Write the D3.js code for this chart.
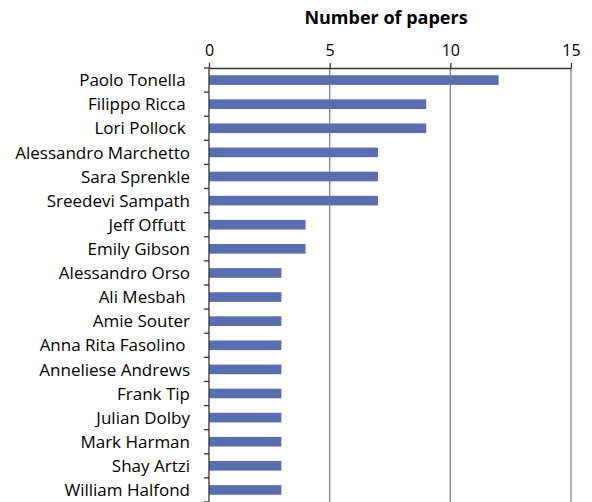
<!DOCTYPE html>
<html>
<head>
<meta charset="utf-8">
<script src="https://cdn.jsdelivr.net/npm/d3@7"></script>
<style>
  body { margin: 0; background: #fff; }
  text { font-family: "Open Sans", sans-serif; }
</style>
</head>
<body>
<div id="chart"></div>
<script>
// authors and their paper counts (trailing spaces kept as in the original labels)
const authors = ["Paolo Tonella ", "Filippo Ricca ", "Lori Pollock ", "Alessandro Marchetto",
    "Sara Sprenkle", "Sreedevi Sampath", "Jeff Offutt ", "Emily Gibson", "Alessandro Orso",
    "Ali Mesbah ", "Amie Souter", "Anna Rita Fasolino ", "Anneliese Andrews", "Frank Tip",
    "Julian Dolby", "Mark Harman", "Shay Artzi", "William Halfond"];
const papers = [12, 9, 9, 7, 7, 7, 4, 4, 3, 3, 3, 3, 3, 3, 3, 3, 3, 3];
const xTicks = [0, 5, 10, 15];
const title = "Number of papers";

function main() {
    let width = 592, height = 502;
    let left = 209, right = 571, top = 68, bottom = 502;

    let svg = d3.select("#chart").append("svg")
        .attr("width", width)
        .attr("height", height);

    let xScale = d3.scaleLinear().domain([0, 15]).range([left, right]);
    let yScale = d3.scaleBand().domain(authors).range([top, bottom]).paddingInner(0.6).paddingOuter(0.3);

    // vertical gridlines
    svg.append("g")
        .selectAll("line")
        .data(xTicks.slice(1))
        .enter()
        .append("line")
        .attr("x1", d => xScale(d))
        .attr("x2", d => xScale(d))
        .attr("y1", top)
        .attr("y2", bottom)
        .attr("stroke", "#868686")
        .attr("stroke-width", 1.3);

    // bars
    svg.append("g")
        .selectAll("rect")
        .data(authors)
        .enter()
        .append("rect")
        .attr("x", xScale(0))
        .attr("y", d => yScale(d))
        .attr("width", (d, i) => xScale(papers[i]) - xScale(0))
        .attr("height", yScale.bandwidth())
        .attr("fill", "#596DAF");

    // top axis
    let xAxis = svg.append("g")
        .attr("transform", "translate(0," + top + ")")
        .call(d3.axisTop(xScale).tickValues(xTicks).tickSize(5).tickSizeOuter(0));
    xAxis.select(".domain").attr("stroke", "#333").attr("stroke-width", 1.3);
    xAxis.selectAll(".tick line").attr("stroke", "#333").attr("stroke-width", 1.3);
    xAxis.selectAll(".tick text")
        .attr("font-size", 16)
        .attr("fill", "#000")
        .attr("y", -12);

    // left axis with ticks between categories
    let bounds = authors.map(d => yScale(d) - yScale.step() * yScale.paddingInner() / 2);
    bounds.push(bottom);
    svg.append("line")
        .attr("x1", left).attr("x2", left)
        .attr("y1", top).attr("y2", bottom)
        .attr("stroke", "#333").attr("stroke-width", 1.3);
    svg.append("g")
        .selectAll("line")
        .data(bounds)
        .enter()
        .append("line")
        .attr("x1", left - 5).attr("x2", left)
        .attr("y1", d => d).attr("y2", d => d)
        .attr("stroke", "#333").attr("stroke-width", 1.3);

    svg.append("g")
        .selectAll("text")
        .data(authors)
        .enter()
        .append("text")
        .attr("x", 190)
        .attr("y", d => yScale(d) + yScale.bandwidth() / 2)
        .attr("dy", "0.36em")
        .attr("text-anchor", "end")
        .attr("font-size", 17)
        .style("white-space", "pre")
        .text(d => d);

    svg.append("text")
        .attr("x", 386)
        .attr("y", 24)
        .attr("text-anchor", "middle")
        .attr("font-size", 18)
        .attr("font-weight", "bold")
        .text(title);
}

main();
</script>
</body>
</html>
